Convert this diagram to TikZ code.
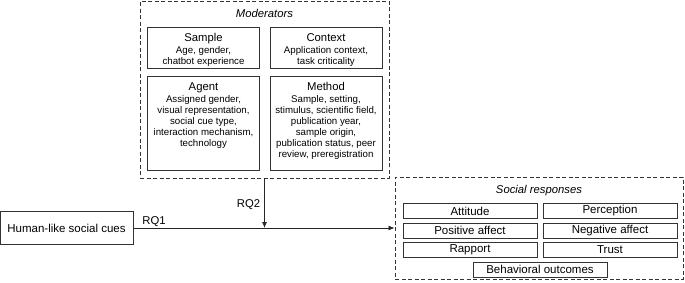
\documentclass[tikz,border=0pt]{standalone}
\usepackage{fontspec}
\setmainfont{Liberation Sans}
\usetikzlibrary{arrows.meta,positioning}

\newcommand{\modtitle}[1]{{\fontsize{11.3}{13}\selectfont #1}}

\begin{document}
\begin{tikzpicture}[
    x=1pt,y=-1pt,
    group/.style={draw=black!80,dash pattern=on 4pt off 2.5pt,line width=0.9pt,inner sep=0pt},
    modbox/.style={draw=black!80,line width=0.9pt,minimum width=112pt,inner sep=0pt},
    modtext/.style={align=center,font=\fontsize{9.7}{11}\selectfont,inner sep=0pt,anchor=north},
    respbox/.style={draw=black!80,line width=0.9pt,minimum width=134pt,minimum height=15pt,inner sep=0pt,font=\fontsize{11.5}{13}\selectfont},
    grouptitle/.style={font=\fontsize{11.3}{13}\selectfont\itshape},
    rqlabel/.style={font=\fontsize{11.3}{13}\selectfont},
    arrow/.style={-{Latex[length=6pt,width=5pt]},line width=0.8pt,black!85}
]
\useasboundingbox (0,0) rectangle (685,282);

% Moderators
\node[group,minimum width=249pt,minimum height=177pt] (moderators) at (264.5,89.5) {};
\node[grouptitle] (modtitle) at (264.5,13) {Moderators};
\node[modbox,minimum height=41pt] (sample) at (203.5,47.5) {};
\node[modbox,minimum height=41pt] (context) at (326,47.5) {};
\node[modbox,minimum height=94pt] (agent) at (203.5,123) {};
\node[modbox,minimum height=94pt] (method) at (326,123) {};
\node[modtext,below=6.5pt of sample.north] (sampletext)
    {\modtitle{Sample}\\[1.5pt] Age, gender,\\ chatbot experience};
\node[modtext,below=6.5pt of context.north] (contexttext)
    {\modtitle{Context}\\[1.5pt] Application context,\\ task criticality};
\node[modtext,below=6.5pt of agent.north] (agenttext)
    {\modtitle{Agent}\\[1.5pt] Assigned gender,\\ visual representation,\\ social cue type,\\ interaction mechanism,\\ technology};
\node[modtext,below=6.5pt of method.north] (methodtext)
    {\modtitle{Method}\\[1.5pt] Sample, setting,\\ stimulus, scientific field,\\ publication year,\\ sample origin,\\ publication status, peer\\ review, preregistration};

% Social responses
\node[group,minimum width=288pt,minimum height=102pt] (responses) at (539,228) {};
\node[grouptitle] (resptitle) at (539,191) {Social responses};
\node[respbox] (attitude) at (470,211) {Attitude};
\node[respbox] (perception) at (610,211) {Perception};
\node[respbox] (posaffect) at (470,230.5) {Positive affect};
\node[respbox] (negaffect) at (610,230.5) {Negative affect};
\node[respbox] (rapport) at (470,250) {Rapport};
\node[respbox] (trust) at (610,250) {Trust};
\node[respbox] (behavior) at (540,269.5) {Behavioral outcomes};

% Cues and research questions
\node[draw=black!80,line width=0.9pt,minimum width=133pt,minimum height=33pt,inner sep=0pt,
    font=\fontsize{11.5}{13}\selectfont] (cues) at (66.5,228) {Human-like social cues};
\coordinate (join) at (moderators.south |- cues.east);
\draw[arrow] (cues.east) -- (cues.east -| responses.west);
\draw[arrow] (moderators.south) -- (join);
\node[rqlabel] (rq1) at (154,222) {RQ1};
\node[rqlabel] (rq2) at (248.5,205) {RQ2};
\end{tikzpicture}
\end{document}
